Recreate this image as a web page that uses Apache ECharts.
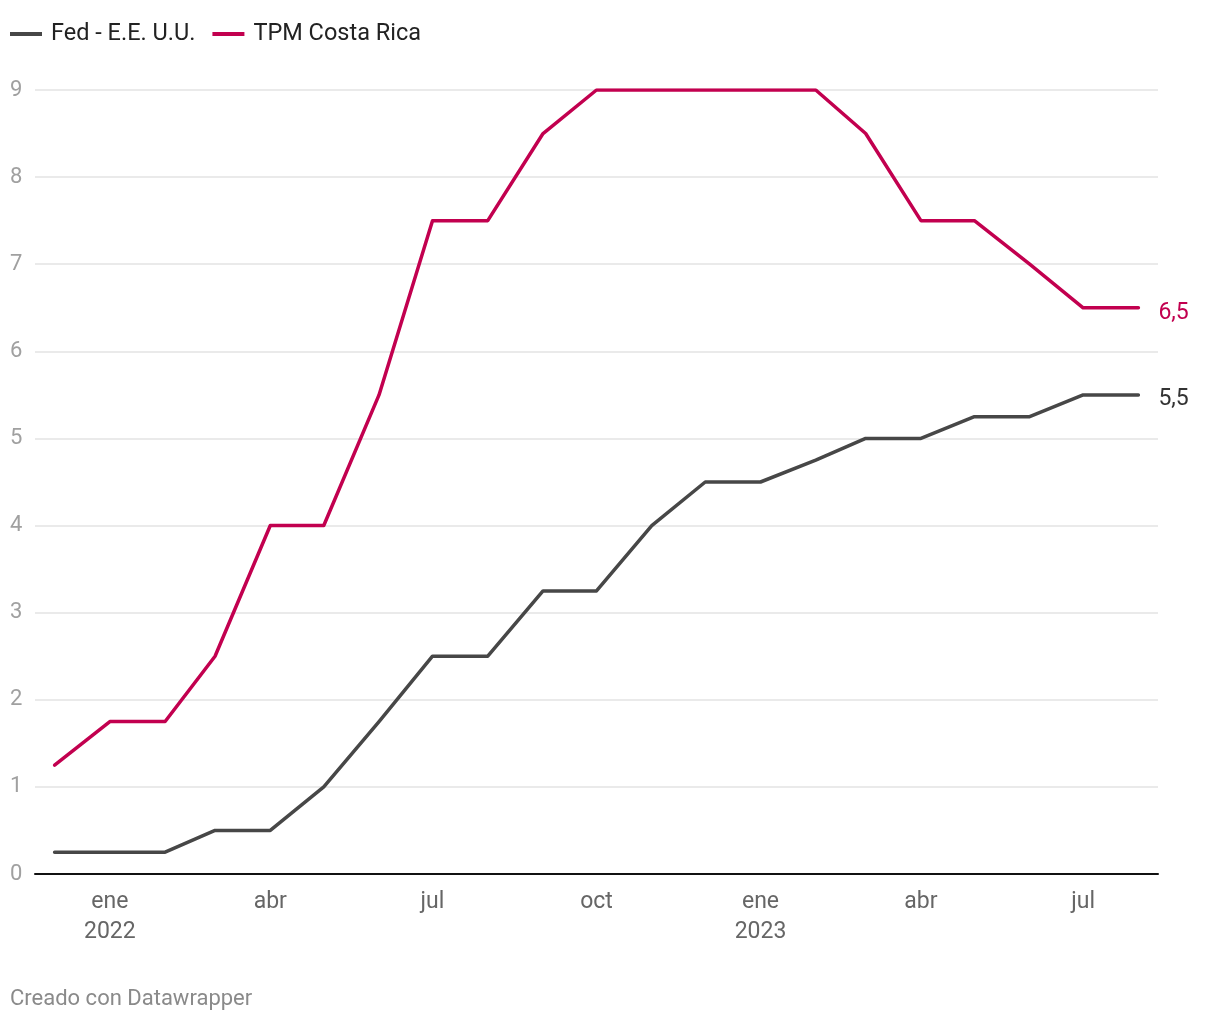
<!DOCTYPE html>
<html>
<head>
<meta charset="utf-8">
<script src="https://cdn.jsdelivr.net/npm/echarts@6/dist/echarts.min.js"></script>
<style>
html,body{margin:0;padding:0;background:#fff;}
#chart{width:1220px;height:1020px;}
</style>
</head>
<body>
<div id="chart"></div>
<script>
// Monthly observations (first day of each month)
const months = ['2021-12','2022-01','2022-02','2022-03','2022-04','2022-05','2022-06','2022-07','2022-08','2022-09','2022-10','2022-11','2022-12','2023-01','2023-02','2023-03','2023-04','2023-05','2023-06','2023-07','2023-08'];
const fed = [0.25,0.25,0.25,0.5,0.5,1.0,1.75,2.5,2.5,3.25,3.25,4.0,4.5,4.5,4.75,5.0,5.0,5.25,5.25,5.5,5.5];
const tpm = [1.25,1.75,1.75,2.5,4.0,4.0,5.5,7.5,7.5,8.5,9,9,9,9,9,8.5,7.5,7.5,7.0,6.5,6.5];
const tickMonths = ['2022-01','2022-04','2022-07','2022-10','2023-01','2023-04','2023-07'];
const monthNames = ['ene','feb','mar','abr','may','jun','jul','ago','sep','oct','nov','dic'];

function toTime(m){ const p = m.split('-'); return Date.UTC(+p[0], +p[1]-1, 1); }
const DAY = 86400000;
const xMin = toTime('2021-12') - 11*DAY;
const xMax = toTime('2023-08') + 11*DAY;

const FONT = 'Roboto, "Noto Sans", sans-serif';
const RED = '#c2004f';
const GREY = '#474747';

const chart = echarts.init(document.getElementById('chart'));
chart.setOption({
  animation: false,
  backgroundColor: '#fff',
  textStyle: { fontFamily: FONT },
  legend: {
    left: 10, top: 22, padding: 0,
    itemWidth: 32, itemHeight: 4, itemGap: 17,
    icon: 'rect',
    textStyle: { fontSize: 23.5, color: '#222', fontFamily: FONT, padding: [0,0,0,4] },
    data: ['Fed - E.E. U.U.', 'TPM Costa Rica']
  },
  grid: { left: 35, right: 62, top: 90, bottom: 146 },
  xAxis: {
    type: 'value',
    min: xMin, max: xMax,
    axisLine: { show: true, onZero: false, lineStyle: { color: '#111', width: 2 } },
    axisTick: { show: false },
    splitLine: { show: false },
    axisLabel: {
      customValues: tickMonths.map(toTime),
      margin: 13,
      fontSize: 23, color: '#666', lineHeight: 30, fontFamily: FONT,
      formatter: function (v) {
        const d = new Date(v);
        const m = monthNames[d.getUTCMonth()];
        return d.getUTCMonth() === 0 ? m + '\n' + d.getUTCFullYear() : m;
      }
    }
  },
  yAxis: {
    type: 'value',
    min: 0, max: 9, interval: 1,
    axisLine: { show: false },
    axisTick: { show: false },
    splitLine: { show: true, lineStyle: { color: '#e3e3e3', width: 1.5 } },
    axisLabel: {
      align: 'left', margin: 25,
      fontSize: 22, color: '#a0a0a0', fontFamily: FONT
    }
  },
  series: [
    {
      name: 'Fed - E.E. U.U.', type: 'line',
      data: months.map((m, i) => [toTime(m), fed[i]]),
      color: GREY,
      showSymbol: false, symbol: 'none',
      lineStyle: { width: 3.5, color: GREY, cap: 'round', join: 'round' },
      endLabel: {
        show: true, distance: 20, offset: [0, 4], fontSize: 23, color: '#333', fontFamily: FONT,
        formatter: p => String(p.value[1]).replace('.', ',')
      },
      z: 3
    },
    {
      name: 'TPM Costa Rica', type: 'line',
      data: months.map((m, i) => [toTime(m), tpm[i]]),
      color: RED,
      showSymbol: false, symbol: 'none',
      lineStyle: { width: 3.5, color: RED, cap: 'round', join: 'round' },
      endLabel: {
        show: true, distance: 20, offset: [0, 5], fontSize: 23, color: RED, fontFamily: FONT,
        formatter: p => String(p.value[1]).replace('.', ',')
      },
      z: 4
    }
  ],
  graphic: [
    { type: 'text', left: 10, top: 988, style: { text: 'Creado con Datawrapper', font: '22px ' + FONT, fill: '#8a8a8a' } }
  ]
});
</script>
</body>
</html>
